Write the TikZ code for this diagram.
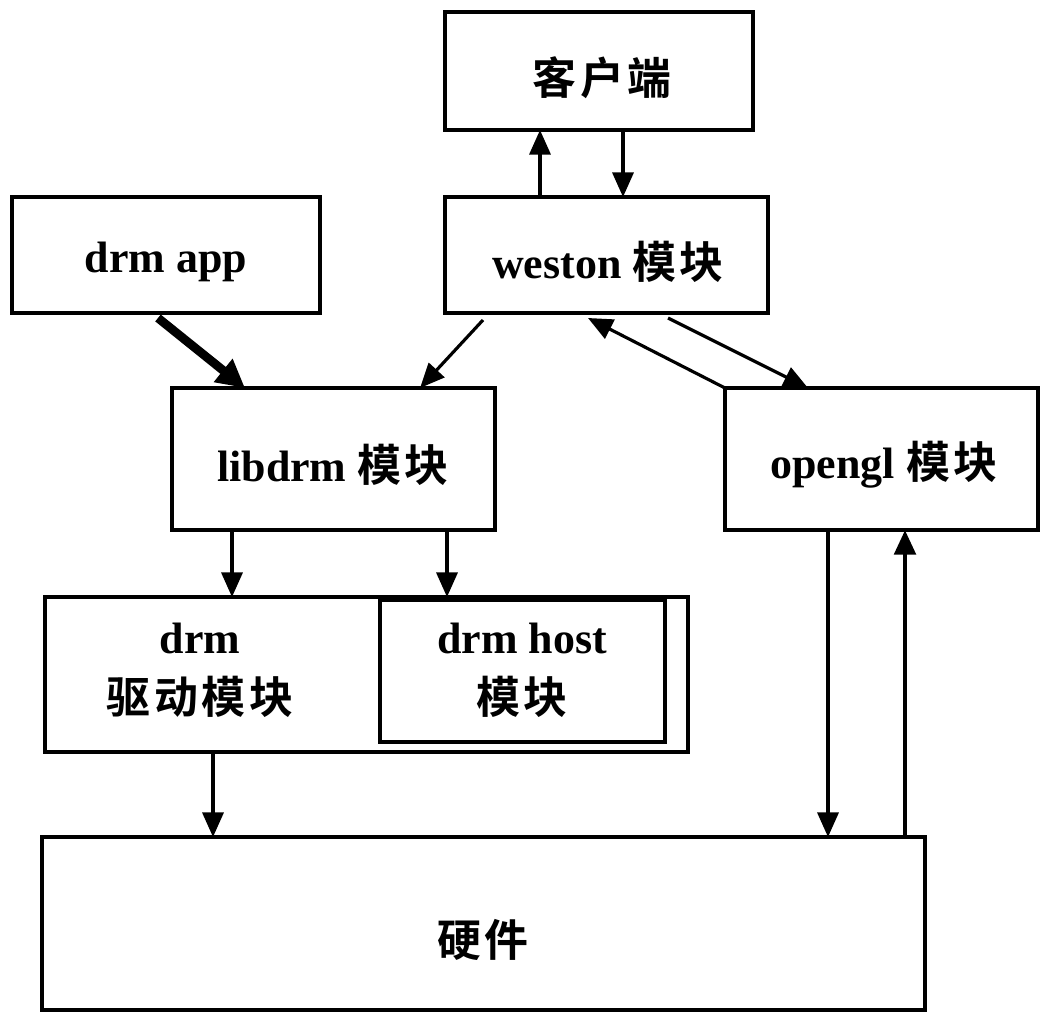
\documentclass[tikz,border=0pt]{standalone}
\usepackage{fontspec}
\setmainfont{Liberation Serif}
\newfontfamily\cjk{Noto Sans CJK SC}[BoldFont={Noto Sans CJK SC Bold},LetterSpace=8]
\usetikzlibrary{arrows.meta}
\begin{document}
\begin{tikzpicture}[x=0.02cm,y=-0.02cm,
  box/.style={draw,line width=1.8pt},
  lbl/.style={font=\fontsize{25}{34}\selectfont\bfseries,align=center},
  arr/.style={line width=1.8pt,-{Triangle[length=14pt,width=12pt]}}]
\useasboundingbox (0,0) rectangle (1050,1025);
\draw[box] (445,12) rectangle (753,130); \node[lbl] (client) at (602,78) {{\cjk 客户端}};
\draw[box] (445,197) rectangle (768,313); \node[lbl] (weston) at (608,262) {weston {\cjk 模块}};
\draw[box] (12,197) rectangle (320,313); \node[lbl] (app) at (166,262) {drm app};
\draw[box] (172,388) rectangle (495,530); \node[lbl] (libdrm) at (333,465) {libdrm {\cjk 模块}};
\draw[box] (725,388) rectangle (1038,530); \node[lbl] (opengl) at (884,465) {opengl {\cjk 模块}};
\draw[box] (45,597) rectangle (688,752);
\draw[box,line width=2.6pt] (380,600) rectangle (665,742);
\node[lbl] (drv) at (200,670) {drm\\{\cjk 驱动模块}};
\node[lbl] (host) at (522,670) {drm host\\{\cjk 模块}};
\draw[box] (42,837) rectangle (925,1010); \node[lbl] (hw) at (483,940) {{\cjk 硬件}};
\coordinate (a1) at (540,197); \coordinate (a2) at (540,130);
\draw[arr] (a1) -- (a2);
\coordinate (b1) at (623,130); \coordinate (b2) at (623,197);
\draw[arr] (b1) -- (b2);
\coordinate (c1) at (158,318); \coordinate (c2) at (245,388);
\draw[line width=5pt,-{Triangle[length=16pt,width=16pt]}] (c1) -- (c2);
\coordinate (d1) at (483,320); \coordinate (d2) at (420,388);
\draw[arr] (d1) -- (d2);
\coordinate (e1) at (725,388); \coordinate (e2) at (588,318);
\draw[arr] (e1) -- (e2);
\coordinate (f1) at (668,318); \coordinate (f2) at (808,388);
\draw[arr] (f1) -- (f2);
\coordinate (g1) at (232,530); \coordinate (g2) at (232,597);
\draw[arr] (g1) -- (g2);
\coordinate (h1) at (447,530); \coordinate (h2) at (447,597);
\draw[arr] (h1) -- (h2);
\coordinate (i1) at (213,752); \coordinate (i2) at (213,837);
\draw[arr] (i1) -- (i2);
\coordinate (j1) at (828,530); \coordinate (j2) at (828,837);
\draw[arr] (j1) -- (j2);
\coordinate (k1) at (905,837); \coordinate (k2) at (905,530);
\draw[arr,line width=2.8pt] (k1) -- (k2);
\end{tikzpicture}
\end{document}
